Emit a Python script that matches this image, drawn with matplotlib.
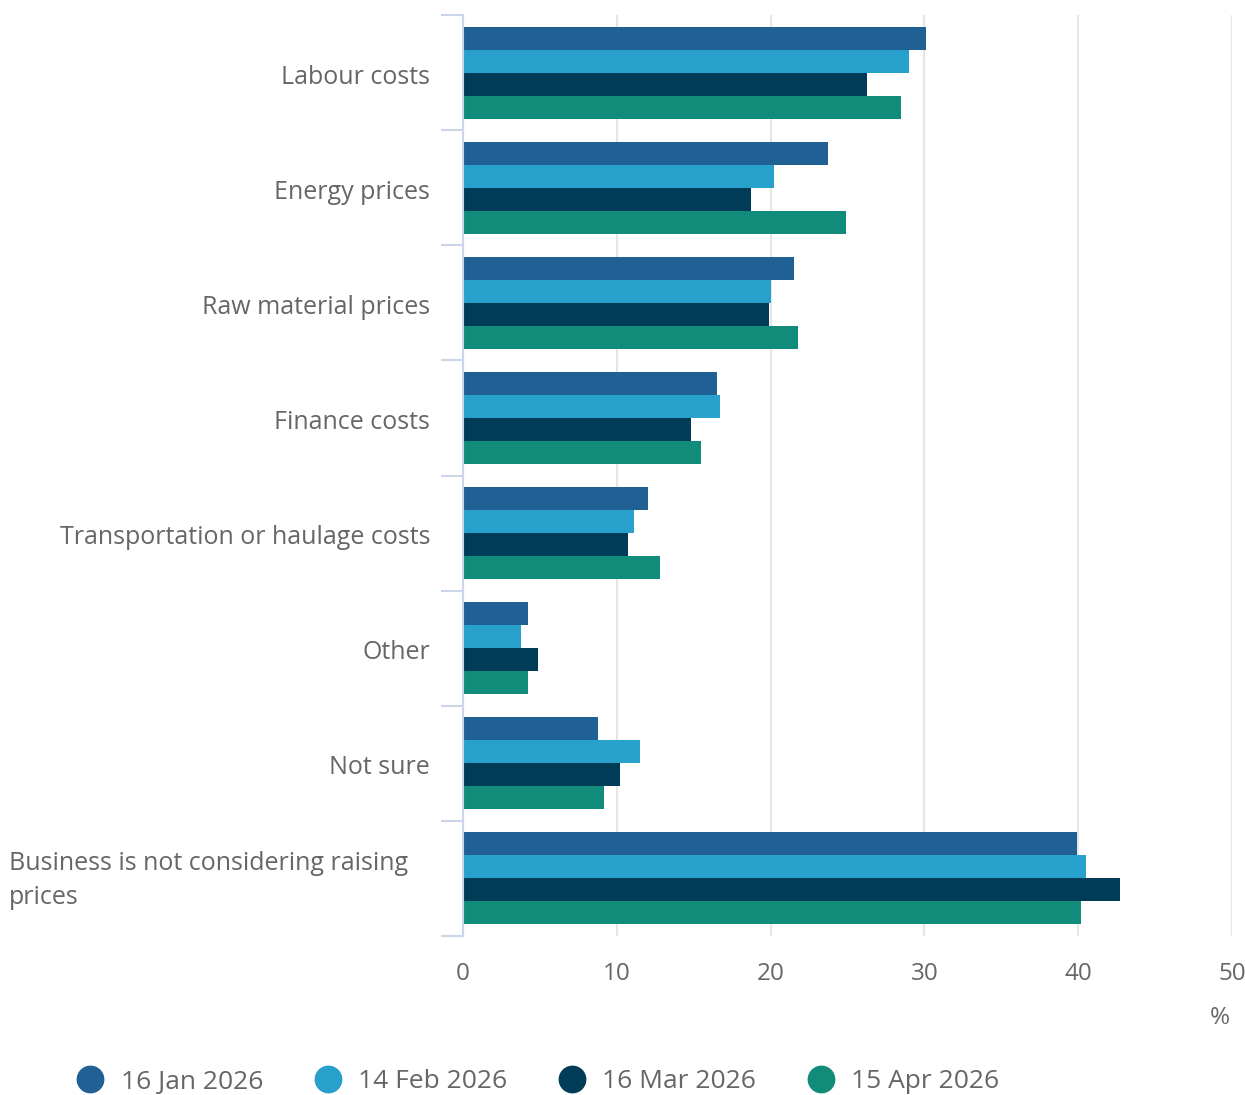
import numpy as np
import matplotlib.pyplot as plt
from matplotlib.lines import Line2D

plt.rcParams['font.family'] = ['Open Sans', 'DejaVu Sans']

categories = ["Labour costs", "Energy prices", "Raw material prices", "Finance costs",
              "Transportation or haulage costs", "Other", "Not sure",
              "Business is not considering raising\nprices"]
series_names = ["16 Jan 2026", "14 Feb 2026", "16 Mar 2026", "15 Apr 2026"]
jan = [30.1, 23.7, 21.5, 16.5, 12.0, 4.2, 8.8, 39.9]
feb = [29.0, 20.2, 20.0, 16.7, 11.1, 3.8, 11.5, 40.5]
mar = [26.3, 18.7, 19.9, 14.8, 10.7, 4.9, 10.2, 42.7]
apr = [28.5, 24.9, 21.8, 15.5, 12.8, 4.2, 9.2, 40.2]
colors = ["#206095", "#27a0cc", "#003c57", "#118c7b"]

text_col = "#666666"
axis_col = "#ccd6eb"

fig = plt.figure(figsize=(12.45, 10.95), dpi=100)
ax = fig.add_axes([463 / 1245, 1 - 936 / 1095, 769 / 1245, 921 / 1095])

y = np.arange(len(categories))
h = 0.2
for i, (vals, col) in enumerate(zip([jan, feb, mar, apr], colors)):
    ax.barh(y - 0.3 + i * h, vals, height=h, color=col, zorder=3)

ax.set_xlim(0, 50)
ax.set_ylim(len(categories) - 0.5, -0.5)
ax.set_xticks([0, 10, 20, 30, 40, 50])
ax.tick_params(axis='x', length=0, pad=19, labelsize=17.5, labelcolor=text_col)
ax.grid(axis='x', color="#e6e6e6", linewidth=1.5, zorder=0)

# category separators as ticks on the left axis
ax.set_yticks(np.arange(len(categories) + 1) - 0.5)
ax.set_yticklabels([])
ax.tick_params(axis='y', length=16, width=1.5, color=axis_col)

for s in ['top', 'right', 'bottom']:
    ax.spines[s].set_visible(False)
ax.spines['left'].set_color(axis_col)
ax.spines['left'].set_linewidth(1.5)
ax.spines['left'].set_zorder(4)

ytr = ax.get_yaxis_transform()
for i, cat in enumerate(categories):
    if "\n" in cat:
        ax.text((9 - 463) / 769, i + 0.02, cat, transform=ytr, ha='left', va='center',
                fontsize=18, color=text_col, linespacing=1.5)
    else:
        ax.text(-33 / 769, i + 0.04, cat, transform=ytr, ha='right', va='center',
                fontsize=18, color=text_col)

fig.text(1220 / 1245, 1 - 1018 / 1095, "%", ha='center', va='center',
         fontsize=17.5, color=text_col)

handles = [Line2D([], [], marker='o', linestyle='none', markersize=19,
                  markerfacecolor=c, markeredgecolor=c) for c in colors]
leg = fig.legend(handles, series_names, loc='center left', ncol=4,
                 bbox_to_anchor=(77 / 1245, 1 - 1082 / 1095), frameon=False,
                 fontsize=19, handletextpad=0.65, columnspacing=1.95,
                 handlelength=1.0, borderpad=0, borderaxespad=0)
for t in leg.get_texts():
    t.set_color(text_col)

fig.savefig("out.png", dpi=100)
